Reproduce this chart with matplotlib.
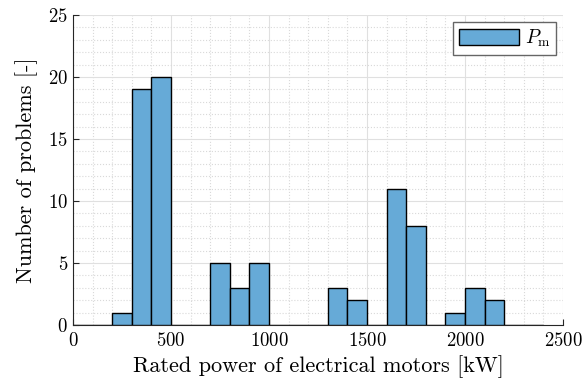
import numpy as np
import matplotlib
matplotlib.use("Agg")
import matplotlib.pyplot as plt
from matplotlib.ticker import MultipleLocator

plt.rcParams['font.family'] = 'serif'
plt.rcParams['font.serif'] = ['cmr10']
plt.rcParams['mathtext.fontset'] = 'cm'
plt.rcParams['axes.formatter.use_mathtext'] = True

# histogram counts per 100 kW bin
bin_edges = np.arange(0, 2500, 100)
counts = [0, 0, 1, 19, 20, 0, 0, 5, 3, 5, 0, 0, 0, 3, 2, 0, 11, 8, 0, 1, 3, 2, 0, 0]

bar_color = (0.4, 0.668, 0.845)
axis_color = (0.15, 0.15, 0.15)

fig = plt.figure(figsize=(5.83, 3.91), dpi=100)
ax = fig.add_axes([73 / 583, 66 / 391, 490 / 583, 310 / 391])

ax.bar(bin_edges[:-1], counts, width=100, align='edge', color=bar_color,
       edgecolor='black', linewidth=1.0, label=r'$P_\mathrm{m}$', zorder=3)

ax.set_xlim(0, 2500)
ax.set_ylim(0, 25)
ax.xaxis.set_major_locator(MultipleLocator(500))
ax.xaxis.set_minor_locator(MultipleLocator(100))
ax.yaxis.set_major_locator(MultipleLocator(5))
ax.yaxis.set_minor_locator(MultipleLocator(1))

ax.grid(which='major', color=(0.88, 0.88, 0.88), linewidth=0.8, zorder=0)
ax.grid(which='minor', color=(0.85, 0.85, 0.85), linestyle=':', linewidth=0.8, zorder=0)
ax.set_axisbelow(True)

for side in ['top', 'right']:
    ax.spines[side].set_visible(False)
for side in ['left', 'bottom']:
    ax.spines[side].set_color(axis_color)
    ax.spines[side].set_linewidth(0.8)

ax.tick_params(which='both', direction='in', colors=axis_color, labelsize=13.5,
               top=False, right=False)
ax.tick_params(which='major', length=4)
ax.tick_params(which='minor', length=0)
ax.tick_params(axis='x', pad=5)
for lbl in ax.get_xticklabels() + ax.get_yticklabels():
    lbl.set_color('black')

ax.set_xlabel('Rated power of electrical motors [kW]', fontsize=16, labelpad=4)
ax.set_ylabel('Number of problems [-]', fontsize=16, labelpad=7)

leg = ax.legend(loc='upper right', fontsize=14, fancybox=False, framealpha=1,
                edgecolor=(0.4, 0.4, 0.4), handlelength=3.1, handleheight=0.85,
                handletextpad=0.3, borderpad=0.3, borderaxespad=0.35)
leg.get_frame().set_linewidth(1.0)

fig.savefig('out.png', dpi=100)
